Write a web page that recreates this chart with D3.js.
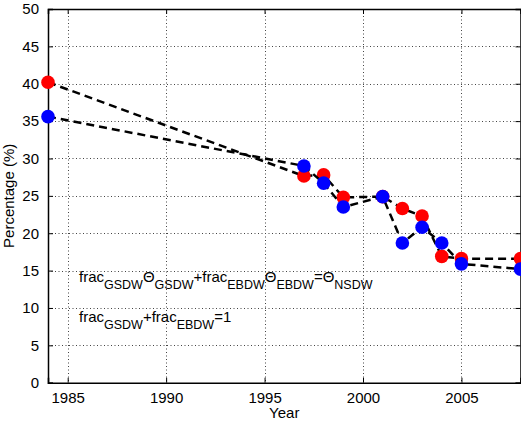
<!DOCTYPE html>
<html>
<head>
<meta charset="utf-8">
<script src="https://cdn.jsdelivr.net/npm/d3@7"></script>
<style>
  html, body { margin: 0; padding: 0; background: #fff; }
  svg { display: block; }
  text { font-family: "Liberation Sans", Arial, Helvetica, sans-serif; fill: #000; }
</style>
</head>
<body>
<svg id="chart" width="521" height="422"></svg>
<script>
// Survey years and the two percentage series
const years = [1984, 1997, 1998, 1999, 2001, 2002, 2003, 2004, 2005, 2008];
const redSeries  = [40.2, 27.65, 27.8, 24.8, 24.9, 23.3, 22.3, 16.9, 16.6, 16.6];
const blueSeries = [35.6, 29.0, 26.7, 23.5, 24.9, 18.7, 20.8, 18.7, 15.9, 15.2];

const xTicks = [1985, 1990, 1995, 2000, 2005];
const yTicks = [0, 5, 10, 15, 20, 25, 30, 35, 40, 45, 50];
const xLabel = "Year";
const yLabel = "Percentage (%)";

const W = 521, H = 422;
const margin = { left: 48, top: 9, right: 0.5, bottom: 39.3 };
const x = d3.scaleLinear().domain([1984, 2008]).range([margin.left, W - margin.right]);
const y = d3.scaleLinear().domain([0, 50]).range([H - margin.bottom, margin.top]);

const svg = d3.select("#chart");
const x0 = x.range()[0], x1 = x.range()[1], y0 = y.range()[0], y1 = y.range()[1];

// dotted grid
const grid = svg.append("g").attr("stroke", "#444").attr("stroke-width", 1)
  .attr("stroke-dasharray", "1,2.5");
grid.selectAll("line.gx").data(xTicks).join("line")
  .attr("x1", d => Math.round(x(d)) + 0.5).attr("x2", d => Math.round(x(d)) + 0.5)
  .attr("y1", y1).attr("y2", y0);
grid.selectAll("line.gy").data(yTicks.filter(t => t > 0 && t < 50)).join("line")
  .attr("x1", x0).attr("x2", x1)
  .attr("y1", d => Math.round(y(d)) + 0.5).attr("y2", d => Math.round(y(d)) + 0.5);

// axes with inward ticks on all four sides
const tickLen = 5;
const fmt = d3.format("d");
const axB = svg.append("g").attr("transform", `translate(0,${y0})`)
  .call(d3.axisBottom(x).tickValues(xTicks).tickSize(-tickLen).tickPadding(10).tickFormat(fmt));
const axT = svg.append("g").attr("transform", `translate(0,${y1})`)
  .call(d3.axisTop(x).tickValues(xTicks).tickSize(-tickLen).tickFormat(""));
const axL = svg.append("g").attr("transform", `translate(${x0},0)`)
  .call(d3.axisLeft(y).tickValues(yTicks).tickSize(-tickLen).tickPadding(9).tickFormat(fmt));
const axR = svg.append("g").attr("transform", `translate(${x1},0)`)
  .call(d3.axisRight(y).tickValues(yTicks).tickSize(-tickLen).tickFormat(""));
[axB, axT, axL, axR].forEach(g => {
  g.select(".domain").attr("stroke", "#000").attr("stroke-width", 1.5);
  g.selectAll(".tick line").attr("stroke", "#000").attr("stroke-width", 1);
  g.selectAll(".tick text").attr("font-size", 15).attr("fill", "#000")
    .style("font-family", "Liberation Sans, Arial, sans-serif");
});

// axis titles
svg.append("text").attr("x", (x0 + x1) / 2).attr("y", 418)
  .attr("text-anchor", "middle").attr("font-size", 15).text(xLabel);
svg.append("text").attr("transform", `translate(14,${(y0 + y1) / 2}) rotate(-90)`)
  .attr("text-anchor", "middle").attr("font-size", 15).text(yLabel);

// dashed series with filled circle markers
const line = d3.line().x(d => x(d[0])).y(d => y(d[1]));
[[redSeries, "#ff0000"], [blueSeries, "#0000ff"]].forEach(([vals, col]) => {
  const pts = years.map((yr, i) => [yr, vals[i]]);
  svg.append("path").datum(pts).attr("d", line)
    .attr("fill", "none").attr("stroke", "#000").attr("stroke-width", 2.5)
    .attr("stroke-dasharray", "8,5");
  svg.append("g").selectAll("circle").data(pts).join("circle")
    .attr("cx", d => x(d[0])).attr("cy", d => y(d[1])).attr("r", 6.8)
    .attr("fill", col);
});

// equations with subscripts
function richText(xp, yp, parts) {
  const t = svg.append("text").attr("x", xp).attr("y", yp).attr("font-size", 15);
  let shift = 0;
  parts.forEach(([s, sub]) => {
    const target = sub ? 7 : 0;
    t.append("tspan").attr("dy", target - shift)
      .attr("font-size", sub ? 12.5 : 15).text(s);
    shift = target;
  });
}
richText(79, 282, [["frac"], ["GSDW", 1], ["Θ"], ["GSDW", 1], ["+frac"], ["EBDW", 1],
  ["Θ"], ["EBDW", 1], ["=Θ"], ["NSDW", 1]]);
richText(79, 322, [["frac"], ["GSDW", 1], ["+frac"], ["EBDW", 1], ["=1"]]);
</script>
</body>
</html>
